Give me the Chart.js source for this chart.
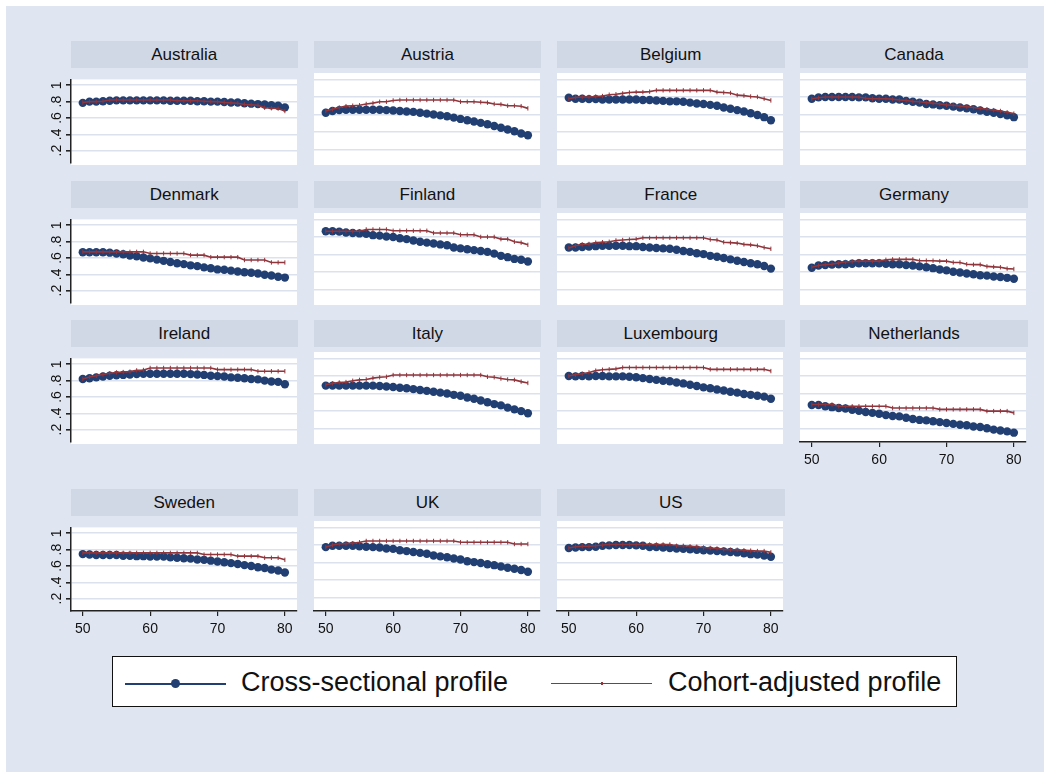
<!DOCTYPE html>
<html><head><meta charset="utf-8">
<script src="https://cdn.jsdelivr.net/npm/chart.js@4.4.1/dist/chart.umd.min.js"></script>
<style>
html,body{margin:0;padding:0;background:#ffffff;width:1050px;height:772px;overflow:hidden;}
#frame{position:absolute;left:6px;top:6px;width:1038px;height:766px;background:#e0e6f1;}
.hdr{position:absolute;height:27px;line-height:27px;background:#d1d8e5;text-align:center;font-family:"Liberation Sans",Arial,sans-serif;font-size:17px;color:#111;white-space:nowrap;}
canvas{position:absolute;}
#legend{position:absolute;left:112px;top:656px;width:843px;height:49px;border:1.5px solid #111;background:#fff;font-family:"Liberation Sans",Arial,sans-serif;}
#legend .ln{position:absolute;height:2px;top:25.5px;width:101px;}
#legend .tx{position:absolute;top:0;line-height:50px;font-size:27px;color:#111;white-space:nowrap;}
</style></head><body>
<div id="frame"></div>
<script>
const countries = ["Australia","Austria","Belgium","Canada","Denmark","Finland","France","Germany","Ireland","Italy","Luxembourg","Netherlands","Sweden","UK","US"];
const ages = [50,51,52,53,54,55,56,57,58,59,60,61,62,63,64,65,66,67,68,69,70,71,72,73,74,75,76,77,78,79,80];
const xTickValues = [50,60,70,80];
const yTickValues = [0.2,0.4,0.6,0.8,1];
const yTickLabels = [".2",".4",".6",".8","1"];
const seriesLabels = ["Cross-sectional profile","Cohort-adjusted profile"];

const crossAustralia = [0.785,0.80,0.80,0.805,0.81,0.815,0.815,0.815,0.815,0.815,0.815,0.815,0.815,0.81,0.81,0.81,0.81,0.805,0.805,0.80,0.80,0.795,0.79,0.79,0.78,0.775,0.77,0.765,0.755,0.75,0.73];
const cohortAustralia = [0.79,0.80,0.80,0.805,0.82,0.82,0.82,0.82,0.82,0.82,0.82,0.82,0.82,0.82,0.81,0.81,0.81,0.81,0.805,0.80,0.80,0.79,0.785,0.78,0.765,0.76,0.755,0.725,0.72,0.715,0.685];
const crossAustria = [0.62,0.64,0.65,0.655,0.655,0.655,0.655,0.655,0.655,0.65,0.645,0.64,0.635,0.63,0.62,0.61,0.60,0.59,0.58,0.565,0.55,0.535,0.52,0.505,0.49,0.47,0.45,0.43,0.41,0.385,0.365];
const cohortAustria = [0.64,0.66,0.68,0.695,0.70,0.705,0.72,0.73,0.745,0.745,0.76,0.765,0.765,0.765,0.765,0.765,0.765,0.765,0.765,0.765,0.745,0.745,0.745,0.74,0.735,0.72,0.715,0.70,0.70,0.695,0.67];
const crossBelgium = [0.79,0.78,0.78,0.775,0.775,0.77,0.77,0.77,0.77,0.77,0.77,0.765,0.765,0.76,0.755,0.75,0.75,0.745,0.735,0.725,0.72,0.71,0.70,0.68,0.665,0.65,0.635,0.615,0.595,0.57,0.535];
const cohortBelgium = [0.78,0.795,0.80,0.80,0.805,0.81,0.825,0.83,0.84,0.85,0.855,0.855,0.86,0.875,0.875,0.875,0.875,0.875,0.875,0.875,0.875,0.875,0.855,0.85,0.845,0.82,0.815,0.805,0.80,0.78,0.76];
const crossCanada = [0.78,0.795,0.80,0.80,0.80,0.80,0.80,0.795,0.795,0.785,0.78,0.78,0.77,0.77,0.755,0.745,0.735,0.72,0.715,0.705,0.70,0.69,0.68,0.67,0.66,0.645,0.63,0.62,0.605,0.59,0.57];
const cohortCanada = [0.78,0.79,0.80,0.80,0.80,0.80,0.80,0.80,0.785,0.78,0.78,0.78,0.775,0.765,0.76,0.75,0.745,0.735,0.73,0.72,0.71,0.705,0.695,0.69,0.68,0.67,0.66,0.65,0.64,0.625,0.61];
const crossDenmark = [0.67,0.67,0.67,0.67,0.665,0.655,0.645,0.63,0.62,0.605,0.595,0.58,0.565,0.55,0.535,0.525,0.51,0.50,0.485,0.475,0.46,0.455,0.445,0.435,0.425,0.42,0.41,0.395,0.385,0.37,0.36];
const cohortDenmark = [0.675,0.675,0.675,0.675,0.675,0.675,0.675,0.675,0.675,0.675,0.655,0.655,0.655,0.655,0.655,0.655,0.635,0.635,0.635,0.61,0.61,0.61,0.61,0.61,0.575,0.575,0.575,0.575,0.545,0.545,0.545];
const crossFinland = [0.865,0.865,0.86,0.85,0.845,0.84,0.835,0.82,0.815,0.805,0.80,0.785,0.775,0.76,0.745,0.735,0.725,0.715,0.705,0.68,0.67,0.66,0.65,0.64,0.63,0.61,0.585,0.57,0.55,0.54,0.52];
const cohortFinland = [0.865,0.865,0.865,0.865,0.865,0.865,0.885,0.885,0.885,0.885,0.87,0.87,0.87,0.87,0.87,0.87,0.845,0.845,0.845,0.845,0.825,0.825,0.825,0.80,0.80,0.80,0.775,0.775,0.745,0.735,0.71];
const crossFrance = [0.68,0.68,0.685,0.69,0.695,0.70,0.70,0.70,0.70,0.695,0.695,0.685,0.68,0.675,0.67,0.665,0.655,0.64,0.63,0.615,0.605,0.585,0.575,0.56,0.545,0.53,0.515,0.50,0.49,0.47,0.44];
const cohortFrance = [0.675,0.70,0.715,0.72,0.735,0.74,0.745,0.76,0.765,0.77,0.775,0.79,0.79,0.79,0.79,0.79,0.79,0.79,0.79,0.79,0.79,0.77,0.765,0.74,0.735,0.73,0.715,0.71,0.70,0.68,0.665];
const crossGermany = [0.45,0.475,0.48,0.485,0.49,0.49,0.495,0.50,0.50,0.50,0.50,0.495,0.49,0.49,0.48,0.475,0.465,0.455,0.445,0.43,0.42,0.405,0.395,0.385,0.375,0.365,0.36,0.35,0.345,0.335,0.325];
const cohortGermany = [0.455,0.475,0.485,0.49,0.505,0.515,0.52,0.525,0.525,0.525,0.525,0.54,0.545,0.545,0.545,0.545,0.53,0.53,0.53,0.525,0.525,0.51,0.51,0.49,0.485,0.485,0.465,0.46,0.455,0.44,0.435];
const crossIreland = [0.82,0.83,0.84,0.85,0.86,0.865,0.87,0.875,0.88,0.885,0.885,0.885,0.885,0.885,0.885,0.885,0.88,0.875,0.87,0.86,0.855,0.85,0.84,0.835,0.83,0.82,0.815,0.80,0.79,0.785,0.755];
const cohortIreland = [0.82,0.845,0.86,0.875,0.89,0.90,0.905,0.91,0.925,0.93,0.955,0.955,0.955,0.955,0.955,0.955,0.955,0.955,0.955,0.955,0.935,0.935,0.935,0.935,0.935,0.935,0.915,0.915,0.915,0.915,0.915];
const crossItaly = [0.69,0.69,0.69,0.69,0.69,0.69,0.69,0.69,0.685,0.68,0.675,0.665,0.66,0.65,0.64,0.63,0.62,0.61,0.60,0.585,0.575,0.555,0.54,0.52,0.50,0.48,0.465,0.44,0.42,0.40,0.375];
const cohortItaly = [0.70,0.715,0.725,0.73,0.745,0.755,0.76,0.775,0.785,0.79,0.81,0.81,0.81,0.81,0.81,0.81,0.81,0.81,0.81,0.81,0.81,0.81,0.81,0.81,0.79,0.785,0.77,0.76,0.755,0.735,0.72];
const crossLuxembourg = [0.80,0.795,0.80,0.795,0.80,0.80,0.795,0.795,0.795,0.79,0.785,0.775,0.765,0.755,0.745,0.74,0.725,0.715,0.70,0.685,0.67,0.66,0.645,0.635,0.62,0.61,0.595,0.585,0.575,0.565,0.54];
const cohortLuxembourg = [0.80,0.815,0.825,0.84,0.86,0.87,0.875,0.88,0.895,0.895,0.895,0.895,0.895,0.895,0.895,0.895,0.895,0.895,0.895,0.895,0.895,0.875,0.875,0.875,0.875,0.875,0.875,0.875,0.875,0.875,0.855];
const crossNetherlands = [0.47,0.47,0.455,0.445,0.435,0.43,0.415,0.405,0.39,0.38,0.37,0.355,0.345,0.34,0.325,0.31,0.30,0.295,0.285,0.275,0.265,0.255,0.245,0.24,0.225,0.22,0.205,0.19,0.18,0.17,0.155];
const cohortNetherlands = [0.475,0.475,0.475,0.475,0.455,0.455,0.455,0.455,0.455,0.455,0.455,0.455,0.435,0.435,0.435,0.435,0.435,0.435,0.435,0.42,0.42,0.42,0.42,0.42,0.42,0.42,0.40,0.40,0.40,0.40,0.38];
const crossSweden = [0.745,0.74,0.735,0.735,0.735,0.735,0.725,0.725,0.72,0.72,0.715,0.715,0.715,0.705,0.70,0.695,0.69,0.68,0.675,0.665,0.655,0.645,0.635,0.625,0.61,0.60,0.585,0.575,0.555,0.545,0.52];
const cohortSweden = [0.76,0.76,0.76,0.76,0.76,0.76,0.76,0.76,0.76,0.76,0.76,0.76,0.76,0.76,0.76,0.76,0.76,0.76,0.74,0.74,0.74,0.74,0.74,0.72,0.72,0.72,0.72,0.70,0.70,0.70,0.675];
const crossUK = [0.775,0.79,0.79,0.79,0.79,0.785,0.78,0.775,0.77,0.76,0.755,0.74,0.73,0.72,0.71,0.70,0.68,0.67,0.66,0.645,0.635,0.615,0.605,0.595,0.58,0.57,0.555,0.54,0.53,0.515,0.495];
const cohortUK = [0.775,0.80,0.81,0.815,0.82,0.83,0.845,0.845,0.845,0.845,0.845,0.845,0.845,0.845,0.845,0.845,0.845,0.845,0.845,0.845,0.83,0.83,0.83,0.83,0.83,0.83,0.83,0.83,0.81,0.81,0.81];
const crossUS = [0.765,0.77,0.775,0.775,0.78,0.79,0.795,0.80,0.80,0.80,0.795,0.79,0.775,0.775,0.77,0.765,0.76,0.755,0.75,0.745,0.74,0.735,0.73,0.725,0.72,0.715,0.705,0.695,0.69,0.68,0.665];
const cohortUS = [0.765,0.78,0.785,0.785,0.79,0.80,0.805,0.805,0.805,0.805,0.805,0.805,0.805,0.805,0.805,0.805,0.79,0.79,0.785,0.78,0.77,0.765,0.76,0.75,0.745,0.745,0.74,0.735,0.73,0.73,0.715];

const crossSeries = [crossAustralia,crossAustria,crossBelgium,crossCanada,crossDenmark,crossFinland,crossFrance,crossGermany,crossIreland,crossItaly,crossLuxembourg,crossNetherlands,crossSweden,crossUK,crossUS];
const cohortSeries = [cohortAustralia,cohortAustria,cohortBelgium,cohortCanada,cohortDenmark,cohortFinland,cohortFrance,cohortGermany,cohortIreland,cohortItaly,cohortLuxembourg,cohortNetherlands,cohortSweden,cohortUK,cohortUS];

const NAVY = '#213f72', MAROON = '#90353b';
const FONT = '"Liberation Sans", Arial, sans-serif';
const colLeft = [70.5, 313.7, 557, 800.3];
const plotW = 227.5;
const hdrTop = [41, 180.5, 320, 489];
const hdrH = 27;
const plotH = 95;
const AX = 40, BX = 40;

const whiteBg = {id:'whiteBg', beforeDraw(c){
  const a = c.chartArea, ctx = c.ctx;
  ctx.save(); ctx.fillStyle = '#ffffff';
  ctx.fillRect(a.left, a.top, a.right - a.left, a.bottom - a.top + (c.options._extraBottom || 0));
  ctx.restore();
}};

countries.forEach((name, i) => {
  const col = i % 4, row = Math.floor(i / 4);
  const L = colLeft[col], T = hdrTop[row] + hdrH;
  const showY = col === 0;
  const showX = row === 3 || name === 'Netherlands';

  const h = document.createElement('div');
  h.className = 'hdr';
  h.style.left = L + 'px'; h.style.top = hdrTop[row] + 'px'; h.style.width = plotW + 'px';
  h.textContent = name;
  document.body.appendChild(h);

  const cv = document.createElement('canvas');
  const W = Math.round(plotW + AX + 3), H = plotH + BX;
  cv.width = W; cv.height = H;
  cv.style.width = W + 'px'; cv.style.height = H + 'px';
  cv.style.left = (L - AX) + 'px'; cv.style.top = T + 'px';
  document.body.appendChild(cv);

  const cross = crossSeries[i], cohort = cohortSeries[i];
  new Chart(cv, {
    type: 'line',
    data: { datasets: [
      { label: seriesLabels[1], data: ages.map((a, k) => ({x: a, y: cohort[k]})),
        borderColor: MAROON, borderWidth: 1.6, backgroundColor: MAROON,
        pointStyle: 'line', pointRotation: 90, pointRadius: 2.2, pointBorderWidth: 1,
        pointBorderColor: MAROON, tension: 0, order: 0 },
      { label: seriesLabels[0], data: ages.map((a, k) => ({x: a, y: cross[k]})),
        borderColor: NAVY, borderWidth: 1.5, backgroundColor: NAVY,
        pointRadius: 4.2, pointBackgroundColor: NAVY, pointBorderWidth: 0, tension: 0, order: 1 }
    ]},
    options: {
      responsive: false, animation: false, devicePixelRatio: 1,
      _extraBottom: showX ? 0 : 2,
      layout: { padding: { left: 0, right: W - AX - plotW, top: 0, bottom: 0 } },
      plugins: { legend: { display: false }, tooltip: { enabled: false }, title: { display: false } },
      scales: {
        x: {
          type: 'linear', min: 48.25, max: 81.8,
          afterFit(s) { s.height = BX; },
          afterBuildTicks(s) { s.ticks = xTickValues.map(v => ({value: v})); },
          ticks: { display: showX, autoSkip: false, maxRotation: 0, minRotation: 0, padding: 5,
                   color: '#111', font: { family: FONT, size: 14 }, callback: v => String(v) },
          grid: { display: showX, drawOnChartArea: false, drawTicks: showX, tickLength: 5, tickColor: '#222', lineWidth: 1.2 },
          border: { display: showX, color: '#222', width: 1.5 }
        },
        y: {
          type: 'linear', min: 0.049, max: 1.072,
          afterFit(s) { s.width = AX; },
          afterBuildTicks(s) { s.ticks = yTickValues.map(v => ({value: v})); },
          ticks: { display: showY, autoSkip: false, minRotation: 90, maxRotation: 90, crossAlign: 'center', padding: 3,
                   color: '#111', font: { family: FONT, size: 14 },
                   callback: v => yTickLabels[yTickValues.findIndex(t => Math.abs(t - v) < 1e-6)] },
          grid: { color: '#dbe2ee', lineWidth: 1.6, drawTicks: showY, tickLength: 5, tickColor: '#222' },
          border: { display: showY, color: '#222', width: 1.5 }
        }
      }
    },
    plugins: [whiteBg]
  });
});
</script>
<div id="legend">
  <div class="ln" style="left:12px;background:#213f72;"></div>
  <div style="position:absolute;left:58px;top:22px;width:9px;height:9px;border-radius:50%;background:#213f72;"></div>
  <div class="tx" style="left:128px;">Cross-sectional profile</div>
  <div class="ln" style="left:438px;background:#90353b;height:1.6px;"></div>
  <div style="position:absolute;left:488px;top:25px;width:1.5px;height:3px;background:#90353b;"></div>
  <div class="tx" style="left:555px;">Cohort-adjusted profile</div>
</div>
</body></html>
